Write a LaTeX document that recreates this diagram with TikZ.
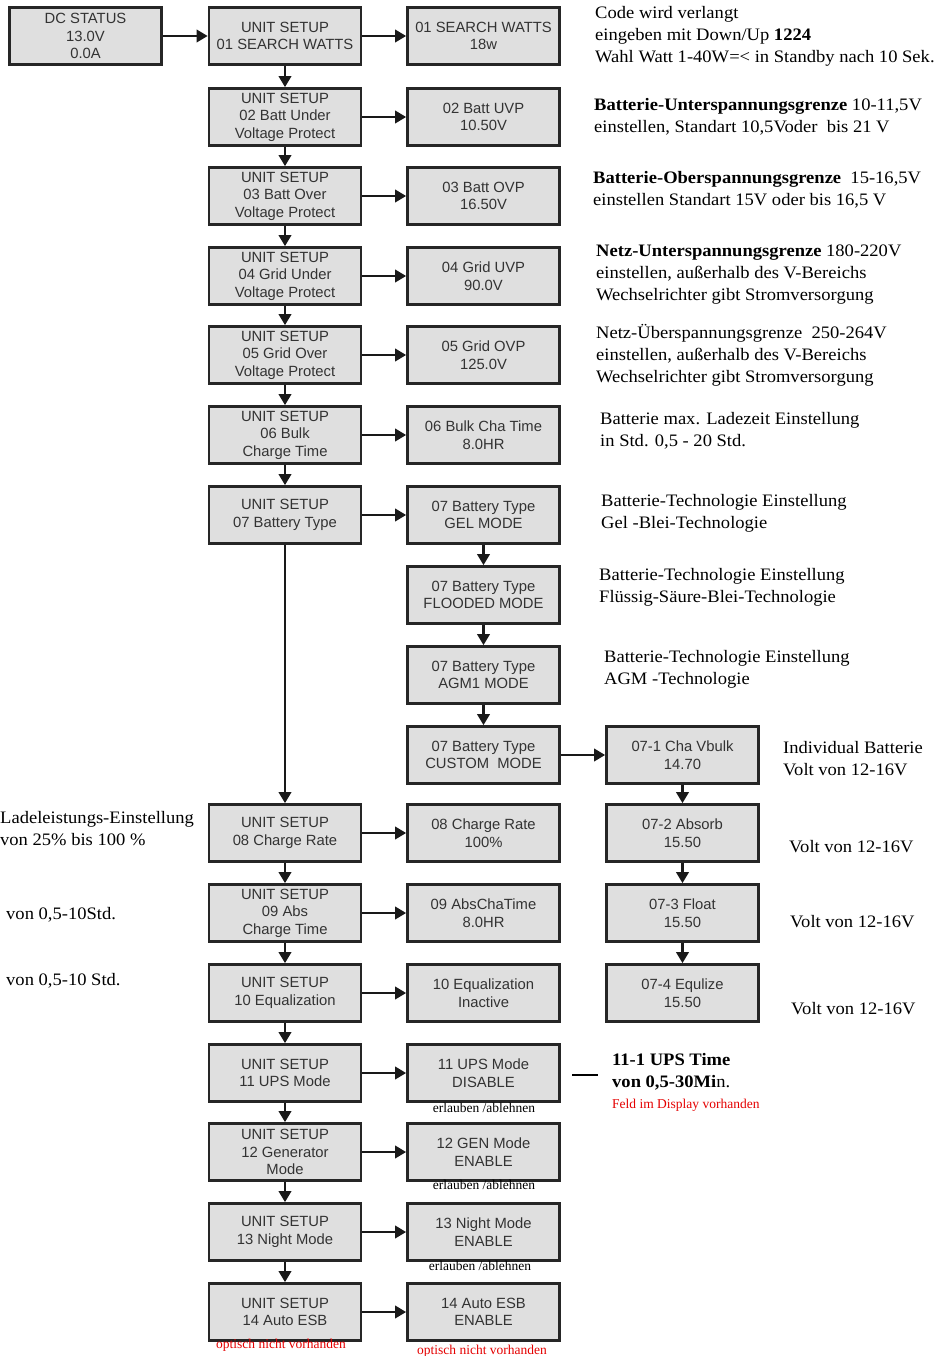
\documentclass[tikz,border=0pt]{standalone}
\usepackage{fontspec}
\setmainfont{Liberation Serif}[FakeStretch=1.06]
\newfontfamily\boxfont{Liberation Sans}
\newfontfamily\smallserif{Liberation Serif}
\usetikzlibrary{arrows.meta}
\begin{document}
\begin{tikzpicture}[x=1pt,y=-1pt,
  box/.style={draw=black!85, line width=2.8pt, fill=gray!25, minimum width=152pt, minimum height=57pt, inner sep=1pt, align=center, text=black!80, font=\boxfont\fontsize{14.8}{17.5}\selectfont},
  arr/.style={line width=2.2pt, draw=black!90, -{Triangle[length=11pt,width=12.5pt]}},
  note/.style={anchor=west, inner sep=0pt, align=left, font=\fontsize{17.5}{22}\selectfont},
  small/.style={inner sep=0pt, font=\smallserif\fontsize{13.5}{15}\selectfont},
  redsmall/.style={small, text=red!90!black}]
\useasboundingbox (0,0) rectangle (941,1356);
\fill[white] (0,0) rectangle (941,1356);

% DC status
\node[box] (dc) at (85.5,36) {DC STATUS\\13.0V\\0.0A};

% Column A
\node[box] (a1) at (285,36) {UNIT SETUP\\01 SEARCH WATTS};
\node[box] (a2) at (285,117) {UNIT SETUP\\02 Batt Under\\Voltage Protect};
\node[box] (a3) at (285,196) {UNIT SETUP\\03 Batt Over\\Voltage Protect};
\node[box] (a4) at (285,276) {UNIT SETUP\\04 Grid Under\\Voltage Protect};
\node[box] (a5) at (285,355) {UNIT SETUP\\05 Grid Over\\Voltage Protect};
\node[box] (a6) at (285,435) {UNIT SETUP\\06 Bulk\\Charge Time};
\node[box] (a7) at (285,515) {UNIT SETUP\\07 Battery Type};
\node[box] (a8) at (285,833) {UNIT SETUP\\08 Charge Rate};
\node[box] (a9) at (285,913) {UNIT SETUP\\09 Abs\\Charge Time};
\node[box] (a10) at (285,993) {UNIT SETUP\\10 Equalization};
\node[box] (a11) at (285,1073) {UNIT SETUP\\11 UPS Mode};
\node[box] (a12) at (285,1152) {UNIT SETUP\\12 Generator\\Mode};
\node[box] (a13) at (285,1232) {UNIT SETUP\\13 Night Mode};
\node[box] (a14) at (285,1312) {UNIT SETUP\\14 Auto ESB};

% Column B
\node[box] (b1) at (483.5,36) {01 SEARCH WATTS\\18w};
\node[box] (b2) at (483.5,117) {02 Batt UVP\\10.50V};
\node[box] (b3) at (483.5,196) {03 Batt OVP\\16.50V};
\node[box] (b4) at (483.5,276) {04 Grid UVP\\90.0V};
\node[box] (b5) at (483.5,355) {05 Grid OVP\\125.0V};
\node[box] (b6) at (483.5,435) {06 Bulk Cha Time\\8.0HR};
\node[box] (b7) at (483.5,515) {07 Battery Type\\GEL MODE};
\node[box] (b7f) at (483.5,595) {07 Battery Type\\FLOODED MODE};
\node[box] (b7a) at (483.5,675) {07 Battery Type\\AGM1 MODE};
\node[box] (b7c) at (483.5,755) {07 Battery Type\\CUSTOM\ \ MODE};
\node[box] (b8) at (483.5,833) {08 Charge Rate\\100\%};
\node[box] (b9) at (483.5,913) {09 AbsChaTime\\8.0HR};
\node[box] (b10) at (483.5,993) {10 Equalization\\Inactive};
\node[box] (b11) at (483.5,1073) {11 UPS Mode\\DISABLE};
\node[box] (b12) at (483.5,1152) {12 GEN Mode\\ENABLE};
\node[box] (b13) at (483.5,1232) {13 Night Mode\\ENABLE};
\node[box] (b14) at (483.5,1312) {14 Auto ESB\\ENABLE};

% Column C
\node[box] (c1) at (682.5,755) {07-1 Cha Vbulk\\14.70};
\node[box] (c2) at (682.5,833) {07-2 Absorb\\15.50};
\node[box] (c3) at (682.5,913) {07-3 Float\\15.50};
\node[box] (c4) at (682.5,993) {07-4 Equlize\\15.50};

% Horizontal arrows
\draw[arr] (dc.east) -- (a1.west);
\foreach \i in {1,...,14} {\draw[arr] (a\i.east) -- (b\i.west);}
\draw[arr] (b7c.east) -- (c1.west);

% Vertical arrows
\foreach \i/\j in {1/2,2/3,3/4,4/5,5/6,6/7,7/8,8/9,9/10,10/11,11/12,12/13,13/14} {\draw[arr] (a\i.south) -- (a\j.north);}
\draw[arr] (b7.south) -- (b7f.north);
\draw[arr] (b7f.south) -- (b7a.north);
\draw[arr] (b7a.south) -- (b7c.north);
\draw[arr] (c1.south) -- (c2.north);
\draw[arr] (c2.south) -- (c3.north);
\draw[arr] (c3.south) -- (c4.north);

% Notes right
\node[note] (n1) at (595,36) {Code wird verlangt\\eingeben mit Down/Up \textbf{1224}\\Wahl Watt 1-40W=< in Standby nach 10 Sek.};
\node[note] (n2) at (594,116.5) {\textbf{Batterie-Unterspannungsgrenze} 10-11,5V\\einstellen, Standart 10,5Voder\ \ bis 21 V};
\node[note] (n3) at (593,190) {\textbf{Batterie-Oberspannungsgrenze}\ \ 15-16,5V\\einstellen Standart 15V oder bis 16,5 V};
\node[note] (n4) at (596,275) {\textbf{Netz-Unterspannungsgrenze} 180-220V\\einstellen, außerhalb des V-Bereichs\\Wechselrichter gibt Stromversorgung};
\node[note] (n5) at (596,355.5) {Netz-Überspannungsgrenze\ \ 250-264V\\einstellen, außerhalb des V-Bereichs\\Wechselrichter gibt Stromversorgung};
\node[note] (n6) at (600,431) {Batterie max. Ladezeit Einstellung\\in Std. 0,5 - 20 Std.};
\node[note] (n7) at (601,513) {Batterie-Technologie Einstellung\\Gel -Blei-Technologie};
\node[note] (n8) at (599,587) {Batterie-Technologie Einstellung\\Flüssig-Säure-Blei-Technologie};
\node[note] (n9) at (604,669) {Batterie-Technologie Einstellung\\AGM -Technologie};
\node[note] (n10) at (783,759) {Individual Batterie\\Volt von 12-16V};
\node[note] (n11) at (789,847) {Volt von 12-16V};
\node[note] (n12) at (790,922) {Volt von 12-16V};
\node[note] (n13) at (791,1009) {Volt von 12-16V};

% Notes left
\node[note] (n14) at (0,828.5) {Ladeleistungs-Einstellung\\von 25\% bis 100 \%};
\node[note] (n15) at (6,915) {von 0,5-10Std.};
\node[note] (n16) at (6,981) {von 0,5-10 Std.};

% UPS time
\coordinate (ups1) at (572,1075);
\coordinate (ups2) at (598,1075);
\draw[line width=1.3pt] (ups1) -- (ups2);
\node[note] (n17) at (612,1072) {\textbf{11-1 UPS Time}\\\textbf{von 0,5-30Mi}n.};
\node[redsmall, anchor=west] (n18) at (612,1105) {Feld im Display vorhanden};

% small labels
\node[small] (e1) at (484,1108) {erlauben /ablehnen};
\node[small] (e2) at (484,1185) {erlauben /ablehnen};
\node[small] (e3) at (480,1266) {erlauben /ablehnen};
\node[redsmall] (o1) at (281,1345) {optisch nicht vorhanden};
\node[redsmall] (o2) at (482,1351) {optisch nicht vorhanden};
\end{tikzpicture}
\end{document}
